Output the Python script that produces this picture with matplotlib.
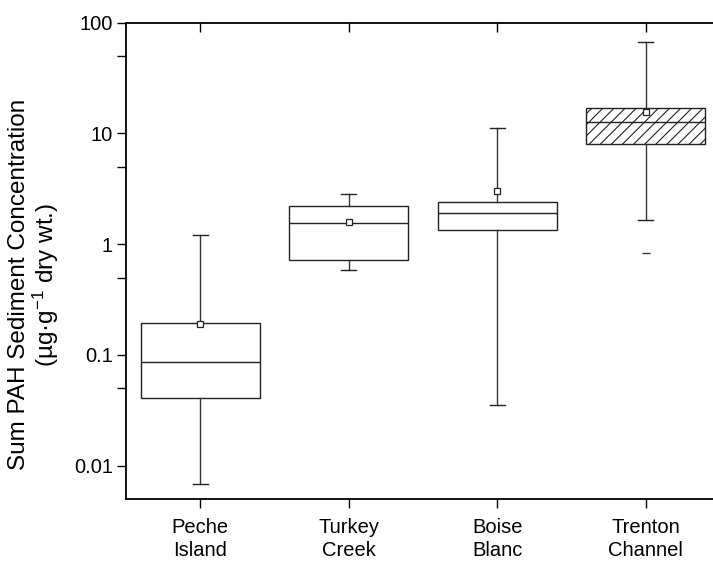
import matplotlib
matplotlib.use("Agg")
import matplotlib.pyplot as plt
from matplotlib.ticker import FixedLocator, FixedFormatter, NullFormatter

plt.rcParams['font.family'] = ['Liberation Sans', 'DejaVu Sans']
plt.rcParams['mathtext.fontset'] = 'custom'
plt.rcParams['mathtext.rm'] = 'Liberation Sans'
plt.rcParams['mathtext.it'] = 'Liberation Sans:italic'
plt.rcParams['hatch.linewidth'] = 0.8

# sites and box statistics (ug/g dry wt.)
sites = ["Peche\nIsland", "Turkey\nCreek", "Boise\nBlanc", "Trenton\nChannel"]
whis_lo = [0.0068, 0.58, 0.035, 1.65]
q1 = [0.041, 0.72, 1.35, 8.1]
median = [0.087, 1.55, 1.93, 12.7]
q3 = [0.195, 2.23, 2.4, 16.9]
whis_hi = [1.21, 2.86, 11.3, 67.4]
mean = [0.191, 1.59, 3.0, 15.6]
outliers = [[], [], [], [0.84]]
hatched = [False, False, False, True]

ytick_vals = [0.01, 0.1, 1, 10, 100]
ytick_labels = ["0.01", "0.1", "1", "10", "100"]
yminor_vals = [0.05, 0.5, 5, 50]

stats = []
for i in range(len(sites)):
    stats.append(dict(label=sites[i], whislo=whis_lo[i], q1=q1[i], med=median[i],
                      q3=q3[i], whishi=whis_hi[i], mean=mean[i], fliers=outliers[i]))

fig = plt.figure(figsize=(7.13, 5.65), dpi=100)
W, H = 713, 565
ax = fig.add_axes([126 / W, 1 - 499 / H, (720 - 126) / W, (499 - 22.7) / H])

bp = ax.bxp(stats, positions=[1, 2, 3, 4], widths=0.8, capwidths=0.1,
            showmeans=True, patch_artist=True,
            boxprops=dict(facecolor='white', edgecolor='#222222', linewidth=1.0),
            medianprops=dict(color='#222222', linewidth=1.0),
            whiskerprops=dict(color='#333333', linewidth=1.0),
            capprops=dict(color='#222222', linewidth=1.0),
            meanprops=dict(marker='s', markerfacecolor='white', markeredgecolor='#222222',
                           markersize=4.5, markeredgewidth=0.9),
            flierprops=dict(marker='_', markeredgecolor='#333333', markersize=6,
                            markeredgewidth=1.0))
for box, h in zip(bp['boxes'], hatched):
    if h:
        box.set_hatch('///')

ax.set_yscale('log')
ax.set_ylim(0.005, 100)
ax.set_xlim(0.5, 4.5)

ax.yaxis.set_major_locator(FixedLocator(ytick_vals))
ax.yaxis.set_major_formatter(FixedFormatter(ytick_labels))
ax.yaxis.set_minor_locator(FixedLocator(yminor_vals))
ax.yaxis.set_minor_formatter(NullFormatter())

ax.tick_params(axis='y', which='major', direction='out', length=6.5, width=1.0,
               labelsize=14.5, right=True, pad=3)
ax.tick_params(axis='y', which='minor', direction='out', length=6.5, width=1.0,
               right=False)
ax.tick_params(axis='x', which='major', direction='out', length=6.5, width=1.0,
               labelsize=14.5, top=True, pad=7.5)
# right and top ticks point inward like the original
for t in ax.yaxis.get_major_ticks():
    t.tick2line.set_marker(matplotlib.lines.TICKRIGHT)
for t in ax.xaxis.get_major_ticks():
    t.tick2line.set_marker(matplotlib.lines.TICKDOWN)
for lab in ax.get_xticklabels():
    lab.set_linespacing(1.25)

for s in ax.spines.values():
    s.set_linewidth(1.3)

ax.set_ylabel("Sum PAH Sediment Concentration\n(µg·g$^{-1}$ dry wt.)", fontsize=17.5,
              linespacing=1.0)
ax.yaxis.set_label_coords(-0.11, 0.45)

fig.savefig("out.png", dpi=100)
